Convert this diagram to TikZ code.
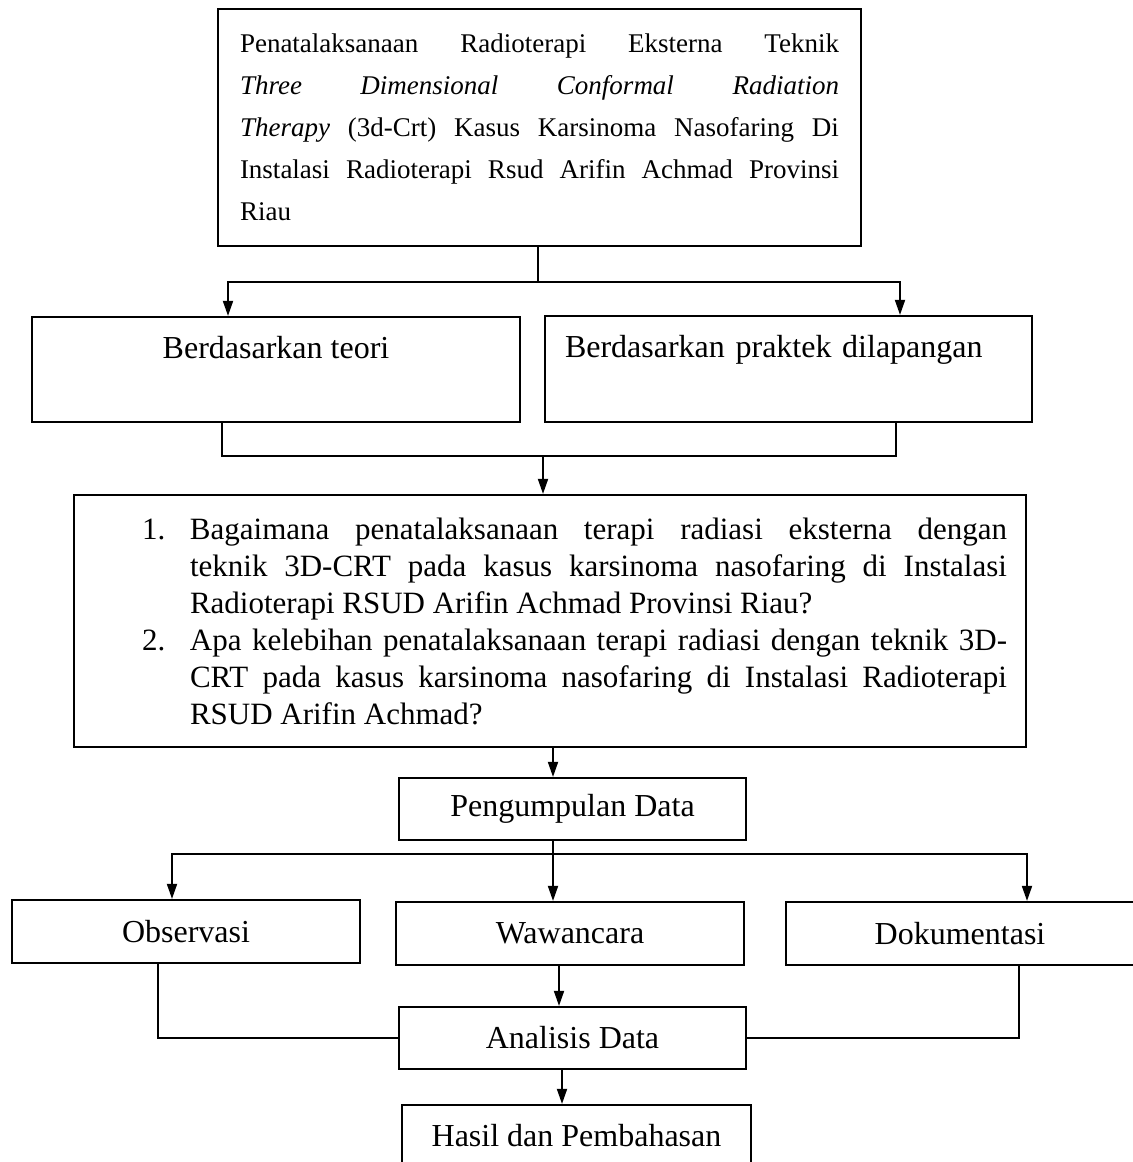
\documentclass[tikz,border=0pt]{standalone}
\usepackage{fontspec}
\setmainfont{Liberation Serif}
\usepackage{tikz}
\usetikzlibrary{arrows.meta}

\begin{document}
\begin{tikzpicture}[x=0.5pt,y=-0.5pt]
	\tikzstyle{kotak}=[rectangle,draw=black,line width=1.1pt,inner sep=0pt,font=\fontsize{16}{19}\selectfont]
	\tikzstyle{garis}=[line width=0.9pt]
	\tikzstyle{panah}=[line width=0.9pt,-{Triangle[length=7.5pt,width=5pt]}]
	\useasboundingbox (0,0) rectangle (1133,1162);
	\clip (0,0) rectangle (1133,1162);
	\node[kotak,minimum width=321.5pt,minimum height=118.5pt,text width=299.5pt,align=justify,font=\fontsize{13.5}{21}\selectfont] (1) at (539.5,127.5) {Penatalaksanaan Radioterapi Eksterna Teknik\linebreak \textit{Three Dimensional Conformal Radiation}\linebreak \textit{Therapy} (3d-Crt) Kasus Karsinoma Nasofaring Di\linebreak Instalasi Radioterapi Rsud Arifin Achmad Provinsi\linebreak Riau};
	\node[kotak,minimum width=244pt,minimum height=52.5pt,text height=20.5pt,text depth=32pt] (2) at (276,369.5) {Berdasarkan teori};
	\node[kotak,minimum height=53pt,text width=223.5pt,inner xsep=10pt,text height=20.5pt,text depth=32.5pt,align=left] (3) at (788.5,369) {Berdasarkan praktek dilapangan};
	\node[kotak,minimum width=476pt,minimum height=126pt,text width=457pt,align=justify,font=\fontsize{15.5}{18.5}\selectfont] (4) at (550,621) {\leftskip=24.5pt
		\noindent\hangindent=24pt\hangafter=1\makebox[24pt][l]{1.}Bagaimana penatalaksanaan terapi radiasi eksterna dengan\linebreak teknik 3D-CRT pada kasus karsinoma nasofaring di Instalasi\linebreak Radioterapi RSUD Arifin Achmad Provinsi Riau?\par
		\noindent\hangindent=24pt\hangafter=1\makebox[24pt][l]{2.}Apa kelebihan penatalaksanaan terapi radiasi dengan teknik 3D-\linebreak CRT pada kasus karsinoma nasofaring di Instalasi Radioterapi\linebreak RSUD Arifin Achmad?\par};
	\node[kotak,minimum width=173.5pt,minimum height=31pt] (5) at (572.5,809) {Pengumpulan Data};
	\node[kotak,minimum width=174pt,minimum height=31.5pt] (6) at (186,931.5) {Observasi};
	\node[kotak,minimum width=174pt,minimum height=31.5pt] (7) at (570,933.5) {Wawancara};
	\node[kotak,minimum width=174pt,minimum height=31.5pt] (8) at (960,933.5) {Dokumentasi};
	\node[kotak,minimum width=173.5pt,minimum height=31pt] (9) at (572.5,1038) {Analisis Data};
	\node[kotak,minimum width=174.5pt,minimum height=31pt] (10) at (576.5,1136) {Hasil dan Pembahasan};
	% cabang ke teori dan praktek
	\coordinate (a) at (538,282);
	\coordinate (a1) at (228,282);
	\coordinate (a2) at (900,282);
	\draw[garis] (1.south -| a) -- (a);
	\draw[panah] (a) -- (a1) -- (a1 |- 2.north);
	\draw[panah] (a) -- (a2) -- (a2 |- 3.north);
	% gabung ke rumusan masalah
	\coordinate (b) at (543,456);
	\coordinate (b1) at (222,456);
	\coordinate (b2) at (896,456);
	\draw[garis] (2.south -| b1) -- (b1) -- (b2) -- (3.south -| b2);
	\draw[panah] (b) -- (b |- 4.north);
	\coordinate (c) at (553,760);
	\draw[panah] (4.south -| c) -- (5.north -| c);
	% pengumpulan data
	\coordinate (d) at (553,854);
	\coordinate (d1) at (172,854);
	\coordinate (d2) at (1027,854);
	\draw[garis] (5.south -| d) -- (d);
	\draw[panah] (d) -- (d |- 7.north);
	\draw[panah] (d) -- (d1) -- (d1 |- 6.north);
	\draw[panah] (d) -- (d2) -- (d2 |- 8.north);
	% analisis
	\coordinate (e) at (559,985);
	\coordinate (f1) at (158,1000);
	\coordinate (f2) at (1019,1000);
	\draw[panah] (7.south -| e) -- (9.north -| e);
	\draw[garis] (6.south -| f1) |- (9.west);
	\draw[garis] (8.south -| f2) |- (9.east);
	\coordinate (g) at (562,1090);
	\draw[panah] (9.south -| g) -- (10.north -| g);
\end{tikzpicture}
\end{document}
